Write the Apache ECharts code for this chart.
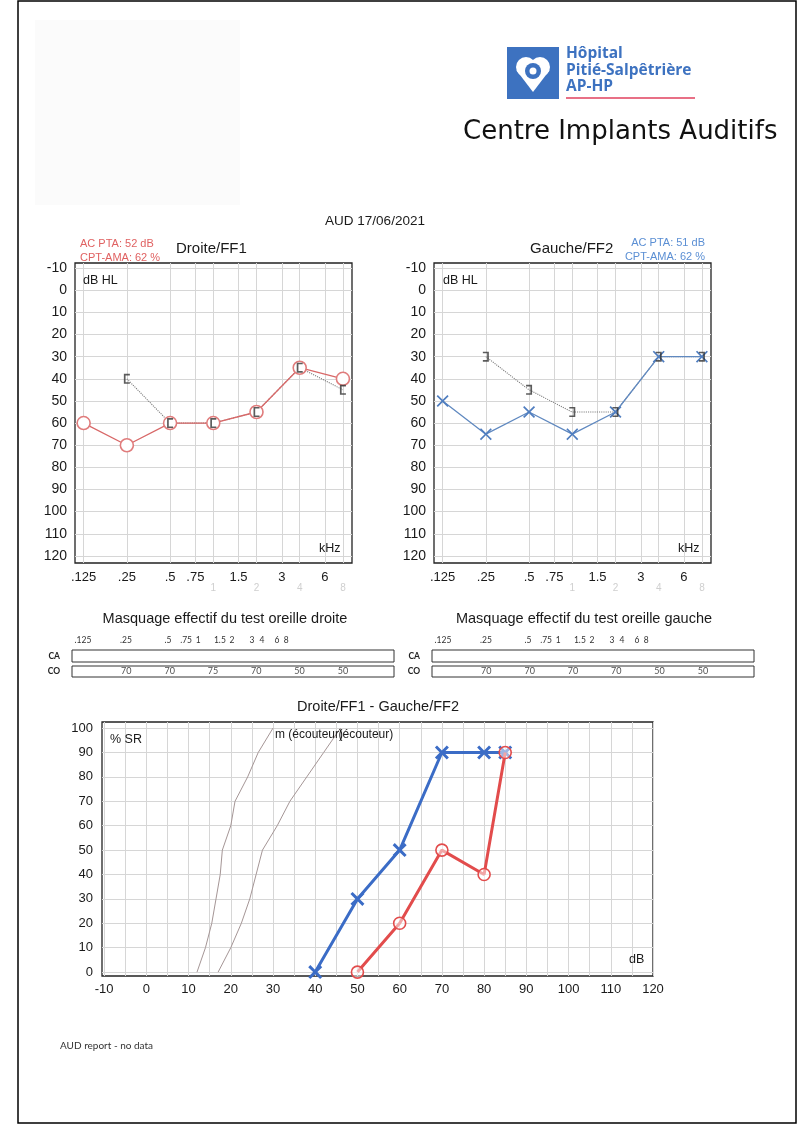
<!DOCTYPE html>
<html><head><meta charset="utf-8">
<script src="https://cdn.jsdelivr.net/npm/echarts@6/dist/echarts.min.js"></script>
<style>html,body{margin:0;padding:0;background:#fff}#c{width:797px;height:1124px}</style>
</head><body><div id="c"></div>
<script>
// ---------- data ----------
const audioFreqs = [0.125, 0.25, 0.5, 1, 2, 4, 8];
const rightAC = [60, 70, 60, 60, 55, 35, 40];
const rightBCFreqs = [0.25, 0.5, 1, 2, 4, 8];
const rightBC = [40, 60, 60, 55, 35, 45];
const leftAC = [50, 65, 55, 65, 55, 30, 30];
const leftBCFreqs = [0.25, 0.5, 1, 2, 4, 8];
const leftBC = [30, 45, 55, 55, 30, 30];

const gridFreqs = [0.125, 0.25, 0.5, 0.75, 1, 1.5, 2, 3, 4, 6, 8];
const freqMainVals = [0.125, 0.25, 0.5, 0.75, 1.5, 3, 6];
const freqMainLabels = ['.125', '.25', '.5', '.75', '1.5', '3', '6'];
const freqFaintVals = [1, 2, 4, 8];
const freqFaintLabels = ['1', '2', '4', '8'];
const dbTicks = [-10, 0, 10, 20, 30, 40, 50, 60, 70, 80, 90, 100, 110, 120];

const maskFreqs = [0.25, 0.5, 1, 2, 4, 8];
const maskRight = [70, 70, 75, 70, 50, 50];
const maskLeft = [70, 70, 70, 70, 50, 50];
const maskHeaderLabels = ['.125', '.25', '.5', '.75', '1', '1.5', '2', '3', '4', '6', '8'];
const maskHeaderTicks = [0, 0.99, 1.96, 2.38, 2.66, 3.16, 3.44, 3.9, 4.13, 4.48, 4.69];

const speechLeftDb = [40, 50, 60, 70, 80, 85];
const speechLeftPct = [0, 30, 50, 90, 90, 90];
const speechRightDb = [50, 60, 70, 80, 85];
const speechRightPct = [0, 20, 50, 40, 90];
const normPct = [0, 10, 20, 30, 40, 50, 60, 70, 80, 90, 100];
const norm1Db = [12, 14, 15.5, 16.5, 17.5, 18, 20, 21, 24, 26.5, 30];
const norm2Db = [17, 20, 22.5, 24.5, 26, 27.5, 31, 34, 38, 42, 46];
const norm1Label = 'm (écouteur)';
const norm2Label = '(écouteur)';
const speechXLabels = [-10, 0, 10, 20, 30, 40, 50, 60, 70, 80, 90, 100, 110, 120];
const speechXGrid = [-10, -5, 0, 5, 10, 15, 20, 25, 30, 35, 40, 45, 50, 55, 60, 65, 70, 75, 80, 85, 90, 95, 100, 105, 110, 115, 120];
const speechYLabels = [0, 10, 20, 30, 40, 50, 60, 70, 80, 90, 100];

// ---------- helpers ----------
const FONT = '"Liberation Sans", Arial, sans-serif';
const oct = f => Math.log2(f / 0.125);
function lookup(vals, labels) {
  return v => { let b = 0, d = Infinity; vals.forEach((x, i) => { const dd = Math.abs(x - v); if (dd < d) { d = dd; b = i; } }); return labels[b]; };
}
const pts = (xs, ys, fx) => xs.map((x, i) => [fx ? fx(x) : x, ys[i]]);
const XSYM = 'path://M0,1.2 L1.2,0 L6,4.8 L10.8,0 L12,1.2 L7.2,6 L12,10.8 L10.8,12 L6,7.2 L1.2,12 L0,10.8 L4.8,6 Z';
const XSYM2 = 'path://M0,1.8 L1.8,0 L6,4.2 L10.2,0 L12,1.8 L7.8,6 L12,10.2 L10.2,12 L6,7.8 L1.8,12 L0,10.2 L4.2,6 Z';
const BR_L = 'path://M0,0 H6 V1.6 H1.7 V8.4 H6 V10 H0 Z';
const BR_R = 'path://M0,0 H6 V10 H0 V8.4 H4.3 V1.6 H0 Z';

const AUD_MIN = -0.2, AUD_MAX = 6.21;
function audXAxes(g) {
  return [{
    type: 'value', gridIndex: g, min: AUD_MIN, max: AUD_MAX,
    axisLine: { show: false },
    axisTick: { show: false, customValues: gridFreqs.map(oct) },
    splitLine: { show: true, lineStyle: { color: '#d6d6d6', width: 1 } },
    axisLabel: { customValues: freqMainVals.map(oct), formatter: lookup(freqMainVals.map(oct), freqMainLabels),
      fontFamily: FONT, fontSize: 13, color: '#1a1a1a', margin: 8 }
  }, {
    type: 'value', gridIndex: g, min: AUD_MIN, max: AUD_MAX, position: 'bottom',
    axisLine: { show: false }, axisTick: { show: false }, splitLine: { show: false },
    axisLabel: { customValues: freqFaintVals.map(oct), formatter: lookup(freqFaintVals.map(oct), freqFaintLabels),
      fontFamily: FONT, fontSize: 10, color: '#cfcfcf', margin: 20 }
  }];
}
function audYAxis(g) {
  return {
    type: 'value', gridIndex: g, inverse: true, min: -12.3, max: 123.2,
    axisLine: { show: false },
    axisTick: { show: false, customValues: dbTicks },
    splitLine: { show: true, lineStyle: { color: '#d6d6d6', width: 1 } },
    axisLabel: { customValues: dbTicks, fontFamily: FONT, fontSize: 14, color: '#1a1a1a', margin: 8 }
  };
}
const MASK_MIN = -0.254, MASK_MAX = 7.18;
function maskAxes(gCA, gCO) {
  const x = [{
    type: 'value', gridIndex: gCA, min: MASK_MIN, max: MASK_MAX, position: 'top',
    axisLine: { show: false }, axisTick: { show: false, customValues: maskHeaderTicks }, splitLine: { show: false },
    axisLabel: { customValues: maskHeaderTicks, formatter: lookup(maskHeaderTicks, maskHeaderLabels),
      fontFamily: 'Lato, sans-serif', fontSize: 8.5, color: '#333', margin: 5 }
  }, {
    type: 'value', gridIndex: gCO, min: MASK_MIN, max: MASK_MAX, show: false
  }];
  const y = [{
    type: 'category', gridIndex: gCA, data: ['CA'],
    axisLine: { show: false }, axisTick: { show: false },
    axisLabel: { fontFamily: 'Lato, sans-serif', fontWeight: 'bold', fontSize: 8.5, color: '#222', margin: 12 }
  }, {
    type: 'category', gridIndex: gCO, data: ['CO'],
    axisLine: { show: false }, axisTick: { show: false },
    axisLabel: { fontFamily: 'Lato, sans-serif', fontWeight: 'bold', fontSize: 8.5, color: '#222', margin: 12 }
  }];
  return { x, y };
}
const gridBase = { show: true, borderColor: '#222', borderWidth: 1.3, backgroundColor: 'transparent', containLabel: false };
const maskGridBase = { show: true, borderColor: '#333', borderWidth: 1, backgroundColor: 'transparent', containLabel: false };

const mL = maskAxes(2, 3), mR = maskAxes(4, 5);

function txt(x, y, text, opts) {
  opts = opts || {};
  return {
    type: 'text', x: x, y: y, z: 10, silent: true,
    style: {
      text: text, fill: opts.color || '#1a1a1a',
      font: (opts.weight || 'normal') + ' ' + (opts.size || 13) + 'px ' + (opts.family || FONT),
      textAlign: opts.align || 'left', textVerticalAlign: 'middle',
      align: opts.align || 'left', verticalAlign: 'middle'
    }
  };
}

const option = {
  backgroundColor: '#fff',
  animation: false,
  grid: [
    Object.assign({ left: 75, top: 263, width: 277, height: 300 }, gridBase),
    Object.assign({ left: 434, top: 263, width: 277, height: 300 }, gridBase),
    Object.assign({ left: 72, top: 650, width: 322, height: 12 }, maskGridBase),
    Object.assign({ left: 72, top: 666, width: 322, height: 11 }, maskGridBase),
    Object.assign({ left: 432, top: 650, width: 322, height: 12 }, maskGridBase),
    Object.assign({ left: 432, top: 666, width: 322, height: 11 }, maskGridBase),
    Object.assign({ left: 102, top: 722, width: 551, height: 254 }, gridBase)
  ],
  xAxis: [].concat(audXAxes(0), audXAxes(1), mL.x, mR.x, [{
    type: 'value', gridIndex: 6, min: -10.5, max: 120,
    axisLine: { show: false },
    axisTick: { show: false, customValues: speechXGrid },
    splitLine: { show: true, lineStyle: { color: '#d6d6d6', width: 1 } },
    axisLabel: { customValues: speechXLabels, fontFamily: FONT, fontSize: 13, color: '#1a1a1a', margin: 7 }
  }]),
  yAxis: [audYAxis(0), audYAxis(1)].concat(mL.y, mR.y, [{
    type: 'value', gridIndex: 6, min: -1.6, max: 102.5,
    axisLine: { show: false },
    axisTick: { show: false, customValues: speechYLabels },
    splitLine: { show: true, lineStyle: { color: '#d6d6d6', width: 1 } },
    axisLabel: { customValues: speechYLabels, fontFamily: FONT, fontSize: 13, color: '#1a1a1a', margin: 9 }
  }]),
  series: [
    // Right ear (Droite/FF1)
    { type: 'line', xAxisIndex: 0, yAxisIndex: 0, data: pts(rightBCFreqs, rightBC, oct), symbol: 'none',
      lineStyle: { color: '#7a7a7a', width: 1.1, type: 'dotted' }, z: 2, silent: true },
    { type: 'line', xAxisIndex: 0, yAxisIndex: 0, data: pts(audioFreqs, rightAC, oct), symbol: 'circle', symbolSize: 13,
      itemStyle: { color: '#fff', borderColor: '#e07c7c', borderWidth: 1.6 },
      lineStyle: { color: '#d86868', width: 1.3 }, z: 3, silent: true },
    { type: 'scatter', xAxisIndex: 0, yAxisIndex: 0, data: pts(rightBCFreqs, rightBC, oct), symbol: BR_L, symbolSize: [6, 10],
      itemStyle: { color: '#333' }, z: 4, silent: true },
    // Left ear (Gauche/FF2)
    { type: 'line', xAxisIndex: 2, yAxisIndex: 1, data: pts(leftBCFreqs, leftBC, oct), symbol: 'none',
      lineStyle: { color: '#7a7a7a', width: 1.1, type: 'dotted' }, z: 2, silent: true },
    { type: 'line', xAxisIndex: 2, yAxisIndex: 1, data: pts(audioFreqs, leftAC, oct), symbol: XSYM, symbolSize: 12,
      itemStyle: { color: '#4f7dbf' },
      lineStyle: { color: '#6089c0', width: 1.3 }, z: 3, silent: true },
    { type: 'scatter', xAxisIndex: 2, yAxisIndex: 1, data: pts(leftBCFreqs, leftBC, oct), symbol: BR_R, symbolSize: [6, 10],
      itemStyle: { color: '#333' }, z: 4, silent: true },
    // Masking values
    { type: 'scatter', xAxisIndex: 5, yAxisIndex: 3, data: maskFreqs.map((f, i) => [oct(f), 'CO', maskRight[i]]),
      symbolSize: 1, itemStyle: { color: 'transparent' }, silent: true,
      label: { show: true, position: 'inside', formatter: p => p.value[2], fontFamily: 'Lato, sans-serif', fontSize: 9, color: '#222' } },
    { type: 'scatter', xAxisIndex: 7, yAxisIndex: 5, data: maskFreqs.map((f, i) => [oct(f), 'CO', maskLeft[i]]),
      symbolSize: 1, itemStyle: { color: 'transparent' }, silent: true,
      label: { show: true, position: 'inside', formatter: p => p.value[2], fontFamily: 'Lato, sans-serif', fontSize: 9, color: '#222' } },
    // Speech audiometry
    { type: 'line', xAxisIndex: 8, yAxisIndex: 6, data: pts(norm1Db, normPct), symbol: 'none',
      lineStyle: { color: '#a59696', width: 1 }, z: 2, silent: true,
      endLabel: { show: true, formatter: norm1Label, fontFamily: FONT, fontSize: 12, color: '#1a1a1a', distance: 2, offset: [0, 7] } },
    { type: 'line', xAxisIndex: 8, yAxisIndex: 6, data: pts(norm2Db, normPct), symbol: 'none',
      lineStyle: { color: '#a59696', width: 1 }, z: 2, silent: true,
      endLabel: { show: true, formatter: norm2Label, fontFamily: FONT, fontSize: 12, color: '#1a1a1a', distance: 0, offset: [-2, 7] } },
    { type: 'line', xAxisIndex: 8, yAxisIndex: 6, data: pts(speechLeftDb, speechLeftPct), symbol: XSYM2, symbolSize: 14,
      itemStyle: { color: '#3b6cc6' }, lineStyle: { color: '#3b6cc6', width: 3 }, z: 3, silent: true },
    { type: 'line', xAxisIndex: 8, yAxisIndex: 6, data: pts(speechRightDb, speechRightPct), symbol: 'circle', symbolSize: 12,
      itemStyle: { color: 'rgba(255,255,255,0.5)', borderColor: '#e24c4c', borderWidth: 1.6 },
      lineStyle: { color: '#e24c4c', width: 3 }, z: 4, silent: true }
  ],
  graphic: [
    { type: 'rect', z: -10, silent: true, shape: { x: 35, y: 20, width: 205, height: 185 }, style: { fill: '#fbfbfb' } },
    { type: 'rect', z: 20, silent: true, shape: { x: 18, y: 1, width: 778, height: 1122 }, style: { fill: 'none', stroke: '#000', lineWidth: 1.5 } },
    // logo
    { type: 'rect', z: 10, silent: true, shape: { x: 507, y: 47, width: 52, height: 52 }, style: { fill: '#3d72c0' } },
    { type: 'circle', z: 11, silent: true, shape: { cx: 526, cy: 67, r: 10 }, style: { fill: '#fff' } },
    { type: 'circle', z: 11, silent: true, shape: { cx: 540, cy: 67, r: 10 }, style: { fill: '#fff' } },
    { type: 'polygon', z: 11, silent: true, shape: { points: [[516.6, 70.5], [533, 92], [549.4, 70.5], [533, 62]] }, style: { fill: '#fff' } },
    { type: 'circle', z: 12, silent: true, shape: { cx: 533, cy: 71, r: 8 }, style: { fill: '#3d72c0' } },
    { type: 'circle', z: 13, silent: true, shape: { cx: 533, cy: 71, r: 3.5 }, style: { fill: '#fff' } },
    txt(566, 54, 'Hôpital', { size: 15.5, weight: 'bold', family: '"Open Sans", sans-serif', color: '#3d72c0' }),
    txt(566, 71, 'Pitié-Salpêtrière', { size: 15.5, weight: 'bold', family: '"Open Sans", sans-serif', color: '#3d72c0' }),
    txt(566, 87, 'AP-HP', { size: 15.5, weight: 'bold', family: '"Open Sans", sans-serif', color: '#3d72c0' }),
    { type: 'line', z: 10, silent: true, shape: { x1: 566, y1: 98, x2: 695, y2: 98 }, style: { stroke: '#e0405e', lineWidth: 1.6 } },
    txt(463, 132, 'Centre Implants Auditifs', { size: 26, family: '"DejaVu Sans", sans-serif', color: '#111' }),
    // audiogram texts
    txt(375, 221, 'AUD 17/06/2021', { size: 13.5, align: 'center' }),
    txt(80, 244, 'AC PTA: 52 dB', { size: 11, color: '#e06262' }),
    txt(80, 258, 'CPT-AMA: 62 %', { size: 11, color: '#e06262' }),
    txt(176, 249, 'Droite/FF1', { size: 15 }),
    txt(530, 249, 'Gauche/FF2', { size: 15 }),
    txt(705, 243, 'AC PTA: 51 dB', { size: 11, color: '#5b8fd4', align: 'right' }),
    txt(705, 257, 'CPT-AMA: 62 %', { size: 11, color: '#5b8fd4', align: 'right' }),
    txt(83, 281, 'dB HL', { size: 12.5 }),
    txt(443, 281, 'dB HL', { size: 12.5 }),
    txt(319, 549, 'kHz', { size: 12.5 }),
    txt(678, 549, 'kHz', { size: 12.5 }),
    // masking titles
    txt(225, 619, 'Masquage effectif du test oreille droite', { size: 14.5, align: 'center' }),
    txt(584, 619, 'Masquage effectif du test oreille gauche', { size: 14.5, align: 'center' }),
    // speech
    txt(378, 707, 'Droite/FF1 - Gauche/FF2', { size: 14.5, align: 'center' }),
    txt(110, 740, '% SR', { size: 12.5 }),
    txt(629, 960, 'dB', { size: 12.5 }),
    // footer
    txt(60, 1046, 'AUD report - no data', { size: 10, family: 'Lato, sans-serif', color: '#333' })
  ]
};
const chart = echarts.init(document.getElementById('c'), null, { renderer: 'canvas' });
chart.setOption(option);
</script>
</body></html>
